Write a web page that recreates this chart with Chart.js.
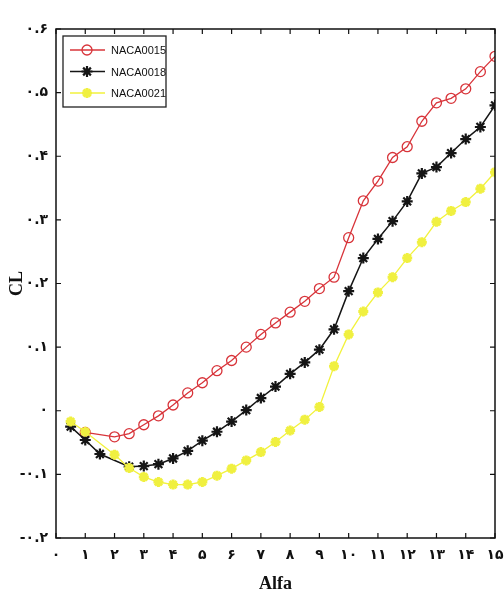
<!DOCTYPE html>
<html>
<head>
<meta charset="utf-8">
<script src="https://cdn.jsdelivr.net/npm/chart.js@4.4.0/dist/chart.umd.min.js"></script>
<style>
    html, body { margin: 0; padding: 0; background: #fff; }
</style>
</head>
<body>
<canvas id="myChart" width="504" height="599"></canvas>
<script>
// values (angle of attack -> lift coefficient)
const alfa0015 = [1, 2, 2.5, 3, 3.5, 4, 4.5, 5, 5.5, 6, 6.5, 7, 7.5, 8, 8.5, 9, 9.5, 10, 10.5, 11, 11.5, 12, 12.5, 13, 13.5, 14, 14.5, 15];
const cl0015 = [-0.034, -0.041, -0.036, -0.022, -0.008, 0.009, 0.028, 0.044, 0.063, 0.079, 0.1, 0.12, 0.138, 0.155, 0.172, 0.192, 0.21, 0.272, 0.33, 0.361, 0.398, 0.415, 0.455, 0.484, 0.491, 0.506, 0.533, 0.557];

const alfa0018 = [0.5, 1, 1.5, 2.5, 3, 3.5, 4, 4.5, 5, 5.5, 6, 6.5, 7, 7.5, 8, 8.5, 9, 9.5, 10, 10.5, 11, 11.5, 12, 12.5, 13, 13.5, 14, 14.5, 15];
const cl0018 = [-0.025, -0.046, -0.068, -0.088, -0.087, -0.084, -0.075, -0.063, -0.047, -0.033, -0.017, 0.001, 0.02, 0.038, 0.058, 0.076, 0.096, 0.128, 0.188, 0.24, 0.27, 0.298, 0.329, 0.373, 0.383, 0.405, 0.427, 0.446, 0.48];

const alfa0021 = [0.5, 1, 2, 2.5, 3, 3.5, 4, 4.5, 5, 5.5, 6, 6.5, 7, 7.5, 8, 8.5, 9, 9.5, 10, 10.5, 11, 11.5, 12, 12.5, 13, 13.5, 14, 14.5, 15];
const cl0021 = [-0.017, -0.033, -0.069, -0.09, -0.104, -0.112, -0.116, -0.116, -0.112, -0.102, -0.091, -0.078, -0.065, -0.049, -0.031, -0.014, 0.006, 0.07, 0.12, 0.156, 0.186, 0.21, 0.24, 0.265, 0.297, 0.314, 0.328, 0.349, 0.375];

const seriesNames = ['NACA0015', 'NACA0018', 'NACA0021'];

const faDigits = '۰۱۲۳۴۵۶۷۸۹';
function toFa(str) {
    return str.replace(/\d/g, d => faDigits[d]);
}

function pts(xs, ys) {
    return xs.map((x, i) => ({x: x, y: ys[i]}));
}

// matlab style box with inward ticks
const frame = {
    id: 'frame',
    afterDatasetsDraw(chart) {
        const {ctx, chartArea: a, scales} = chart;
        ctx.save();
        ctx.strokeStyle = '#111';
        ctx.lineWidth = 1.5;
        ctx.strokeRect(a.left, a.top, a.right - a.left, a.bottom - a.top);
        ctx.lineWidth = 1.2;
        ctx.beginPath();
        scales.x.ticks.forEach(t => {
            const px = scales.x.getPixelForValue(t.value);
            ctx.moveTo(px, a.bottom); ctx.lineTo(px, a.bottom - 5);
            ctx.moveTo(px, a.top); ctx.lineTo(px, a.top + 5);
        });
        scales.y.ticks.forEach(t => {
            const py = scales.y.getPixelForValue(t.value);
            ctx.moveTo(a.left, py); ctx.lineTo(a.left + 5, py);
            ctx.moveTo(a.right, py); ctx.lineTo(a.right - 5, py);
        });
        ctx.stroke();
        ctx.restore();
    }
};

// legend box inside the plot, top left
const boxLegend = {
    id: 'boxLegend',
    afterDraw(chart) {
        const ctx = chart.ctx;
        const x0 = 63, y0 = 36, w = 103, h = 71;
        ctx.save();
        ctx.fillStyle = '#fff';
        ctx.fillRect(x0, y0, w, h);
        ctx.strokeStyle = '#222';
        ctx.lineWidth = 1.3;
        ctx.strokeRect(x0, y0, w, h);
        chart.data.datasets.forEach((ds, i) => {
            const y = y0 + 14 + i * 21.5;
            ctx.strokeStyle = ds.borderColor;
            ctx.lineWidth = ds.borderWidth;
            ctx.beginPath();
            ctx.moveTo(x0 + 7, y);
            ctx.lineTo(x0 + 42, y);
            ctx.stroke();
            ctx.fillStyle = ds.pointBackgroundColor;
            ctx.strokeStyle = ds.pointBorderColor;
            ctx.lineWidth = ds.pointBorderWidth;
            Chart.helpers.drawPoint(ctx, {pointStyle: ds.pointStyle, radius: ds.pointRadius, rotation: 0, borderWidth: ds.pointBorderWidth}, x0 + 24, y);
            ctx.fillStyle = '#111';
            ctx.font = '11px "Liberation Sans"';
            ctx.textBaseline = 'middle';
            ctx.fillText(ds.label, x0 + 48, y + 1);
        });
        ctx.restore();
    }
};

const data = {
    datasets: [
        {
            label: seriesNames[0],
            data: pts(alfa0015, cl0015),
            order: 3,
            borderColor: '#d8343a',
            borderWidth: 1.3,
            pointStyle: 'circle',
            pointRadius: 5,
            pointBorderWidth: 1.3,
            pointBorderColor: '#d8343a',
            pointBackgroundColor: 'rgba(255,255,255,0)'
        },
        {
            label: seriesNames[1],
            data: pts(alfa0018, cl0018),
            order: 2,
            borderColor: '#151515',
            borderWidth: 1.5,
            pointStyle: 'star',
            pointRadius: 5.5,
            pointBorderWidth: 2.2,
            pointBorderColor: '#151515',
            pointBackgroundColor: '#151515'
        },
        {
            label: seriesNames[2],
            data: pts(alfa0021, cl0021),
            order: 1,
            borderColor: '#f2f23c',
            borderWidth: 1.3,
            pointStyle: 'star',
            pointRadius: 5,
            pointBorderWidth: 3,
            pointBorderColor: '#f0f040',
            pointBackgroundColor: '#f0f040'
        }
    ]
};

const config = {
    type: 'line',
    data: data,
    options: {
        responsive: false,
        animation: false,
        layout: {
            padding: {top: 29, right: 9, left: 0, bottom: 0}
        },
        scales: {
            x: {
                type: 'linear',
                min: 0,
                max: 15,
                afterFit: function (scale) {
                    scale.height = 61;
                    scale.paddingLeft = 0;
                    scale.paddingRight = 0;
                },
                grid: {display: false, drawTicks: false},
                border: {display: false},
                ticks: {
                    stepSize: 1,
                    padding: 9,
                    color: '#111',
                    font: {family: 'DejaVu Sans', size: 14, weight: 'bold'},
                    callback: function (value) {
                        return toFa(String(value));
                    }
                },
                title: {
                    display: true,
                    text: 'Alfa',
                    color: '#111',
                    padding: {top: 0, bottom: 4},
                    font: {family: 'Liberation Serif', size: 18, weight: 'bold'}
                }
            },
            y: {
                min: -0.2,
                max: 0.6,
                afterFit: function (scale) {
                    scale.width = 56;
                    scale.paddingTop = 0;
                    scale.paddingBottom = 0;
                },
                grid: {display: false, drawTicks: false},
                border: {display: false},
                ticks: {
                    stepSize: 0.1,
                    padding: 8,
                    color: '#111',
                    font: {family: 'DejaVu Sans', size: 14, weight: 'bold'},
                    callback: function (value) {
                        return toFa(String(Number(value.toFixed(1))));
                    }
                },
                title: {
                    display: true,
                    text: 'CL',
                    color: '#111',
                    padding: {top: 7, bottom: 0},
                    font: {family: 'Liberation Serif', size: 18, weight: 'bold'}
                }
            }
        },
        plugins: {
            legend: {display: false},
            tooltip: {enabled: false}
        }
    },
    plugins: [frame, boxLegend]
};

new Chart(document.getElementById('myChart'), config);
</script>
</body>
</html>
